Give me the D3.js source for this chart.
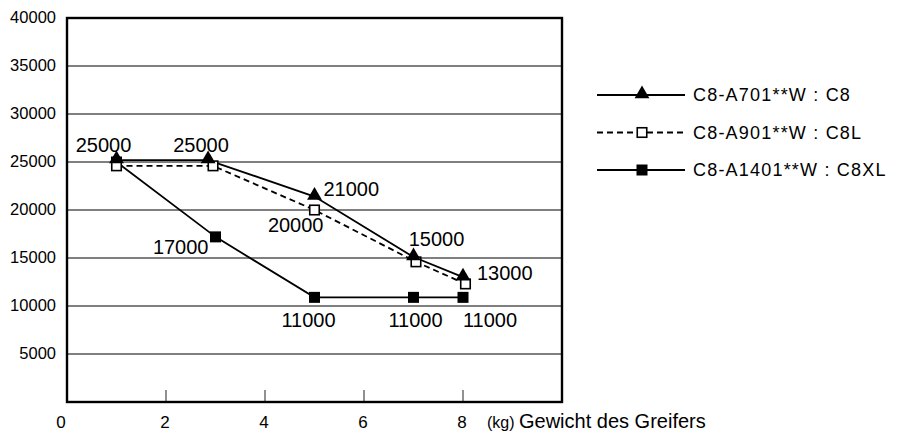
<!DOCTYPE html>
<html>
<head>
<meta charset="utf-8">
<script src="https://cdn.jsdelivr.net/npm/d3@7"></script>
<style>
  html, body { margin: 0; padding: 0; background: #fff; }
  text { font-family: "Liberation Sans", Arial, sans-serif; fill: #000; }
</style>
</head>
<body>
<svg id="chart" width="907" height="431"></svg>
<script>
// data
var xTicks = [0, 2, 4, 6, 8];
var yTicks = [5000, 10000, 15000, 20000, 25000, 30000, 35000, 40000];

var seriesNames = ['C8-A701**W : C8', 'C8-A901**W : C8L', 'C8-A1401**W : C8XL'];

var c8X = [1, 2.85, 5, 7, 8];
var c8Y = [25200, 25200, 21400, 15100, 13000];
var c8Labels = ['25000', '25000', '21000', '15000', '13000'];

var c8lX = [1, 2.95, 5, 7.05, 8.05];
var c8lY = [24600, 24600, 20000, 14600, 12300];
var c8lLabels = [null, null, '20000', null, null];

var c8xlX = [1, 3, 5, 7, 8];
var c8xlY = [25000, 17200, 10900, 10900, 10900];
var c8xlLabels = [null, '17000', '11000', '11000', '11000'];

// label placement relative to the point (pixels) - layout, not data
var c8LabelPos = [[-13, -8, 'middle'], [-7, -8, 'middle'], [9, -1, 'start'], [23, -11, 'middle'], [14, 3, 'start']];
var c8lLabelPos = [null, null, [9, 22, 'end'], null, null];
var c8xlLabelPos = [null, [-7, 17, 'end'], [-6, 30, 'middle'], [2, 30, 'middle'], [27, 30, 'middle']];

var svg = d3.select('#chart');
var plotL = 67, plotR = 562, plotT = 18, plotB = 402;

var x = d3.scaleLinear().domain([0, 10]).range([plotL, plotR]);
var y = d3.scaleLinear().domain([0, 40000]).range([plotB, plotT]);

// grid lines
svg.append('g').selectAll('line')
  .data(yTicks.filter(d => d < 40000))
  .enter().append('line')
    .attr('x1', plotL).attr('x2', plotR)
    .attr('y1', d => y(d)).attr('y2', d => y(d))
    .attr('stroke', '#000').attr('stroke-width', 1.2);

// y tick labels
svg.append('g').selectAll('text')
  .data(yTicks)
  .enter().append('text')
    .attr('x', 56).attr('y', d => y(d))
    .attr('dy', '0.33em')
    .attr('text-anchor', 'end')
    .attr('font-size', 16.5)
    .text(d => d);

// x tick marks (inside) and labels
svg.append('g').selectAll('line')
  .data(xTicks.filter(d => d > 0))
  .enter().append('line')
    .attr('x1', d => x(d)).attr('x2', d => x(d))
    .attr('y1', plotB).attr('y2', plotB - 12)
    .attr('stroke', '#555').attr('stroke-width', 1.3);

svg.append('g').selectAll('text')
  .data(xTicks)
  .enter().append('text')
    .attr('x', d => d === 0 ? x(d) - 6 : x(d) - 1)
    .attr('y', 428)
    .attr('text-anchor', 'middle')
    .attr('font-size', 17)
    .text(d => d);

var axisTitle = svg.append('text').attr('x', 487).attr('y', 428);
axisTitle.append('tspan').attr('font-size', 16).text('(kg) ');
axisTitle.append('tspan').attr('font-size', 20).text('Gewicht des Greifers');

// frame
svg.append('rect')
  .attr('x', plotL).attr('y', plotT)
  .attr('width', plotR - plotL).attr('height', plotB - plotT)
  .attr('fill', 'none').attr('stroke', '#000').attr('stroke-width', 2.4);

var line = d3.line().x(d => x(d[0])).y(d => y(d[1]));

function drawSeries(xs, ys, dash) {
  var pts = d3.zip(xs, ys);
  svg.append('path')
    .datum(pts)
    .attr('d', line)
    .attr('fill', 'none')
    .attr('stroke', '#000')
    .attr('stroke-width', 1.8)
    .attr('stroke-dasharray', dash);
  return pts;
}

var tri = d3.symbol().type(d3.symbolTriangle).size(95);

function markers(pts, kind) {
  var g = svg.append('g');
  if (kind === 'tri') {
    g.selectAll('path').data(pts).enter().append('path')
      .attr('d', tri)
      .attr('transform', d => `translate(${x(d[0])},${y(d[1]) - 1})`)
      .attr('fill', '#000');
  } else {
    var s = kind === 'open' ? 9.5 : 11;
    g.selectAll('rect').data(pts).enter().append('rect')
      .attr('x', d => x(d[0]) - s / 2).attr('y', d => y(d[1]) - s / 2)
      .attr('width', s).attr('height', s)
      .attr('fill', kind === 'open' ? '#fff' : '#000')
      .attr('stroke', '#000').attr('stroke-width', kind === 'open' ? 1.6 : 0);
  }
}

function labels(pts, texts, pos) {
  pts.forEach(function(p, i) {
    if (!texts[i]) return;
    svg.append('text')
      .attr('x', x(p[0]) + pos[i][0])
      .attr('y', y(p[1]) + pos[i][1])
      .attr('text-anchor', pos[i][2])
      .attr('font-size', 20)
      .text(texts[i]);
  });
}

var pXL = drawSeries(c8xlX, c8xlY, null);
var pL = drawSeries(c8lX, c8lY, '6,4');
var p8 = drawSeries(c8X, c8Y, null);
markers(pXL, 'filled');
markers(pL, 'open');
markers(p8, 'tri');
labels(p8, c8Labels, c8LabelPos);
labels(pL, c8lLabels, c8lLabelPos);
labels(pXL, c8xlLabels, c8xlLabelPos);

// legend
var legendKinds = ['tri', 'open', 'filled'];
var legend = svg.append('g').selectAll('g')
  .data(seriesNames)
  .enter().append('g')
    .attr('transform', (d, i) => `translate(597,${95 + i * 37.5})`);

legend.append('line')
  .attr('x1', 0).attr('x2', 88)
  .attr('stroke', '#000').attr('stroke-width', 1.8)
  .attr('stroke-dasharray', (d, i) => i === 1 ? '6,4' : null);

legend.each(function(d, i) {
  var g = d3.select(this);
  if (legendKinds[i] === 'tri') {
    g.append('path').attr('d', tri).attr('transform', 'translate(45,-1)');
  } else {
    var s = legendKinds[i] === 'open' ? 9.5 : 11;
    g.append('rect')
      .attr('x', 45 - s / 2).attr('y', -s / 2).attr('width', s).attr('height', s)
      .attr('fill', legendKinds[i] === 'open' ? '#fff' : '#000')
      .attr('stroke', '#000').attr('stroke-width', legendKinds[i] === 'open' ? 1.6 : 0);
  }
});

legend.append('text')
  .attr('x', 96).attr('y', 0).attr('dy', '0.36em')
  .attr('font-size', 18)
  .attr('letter-spacing', 1.2)
  .text(d => d);
</script>
</body>
</html>
